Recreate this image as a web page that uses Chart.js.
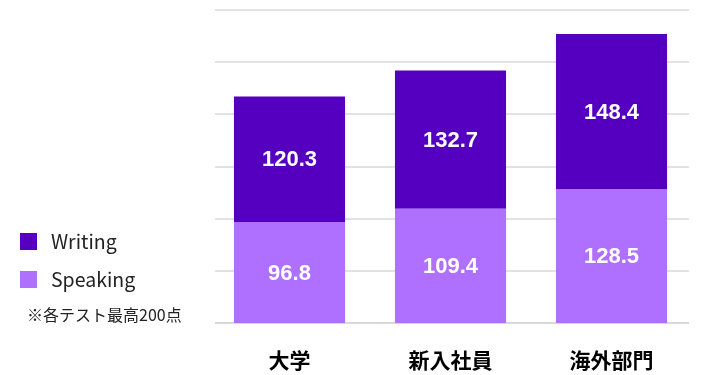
<!DOCTYPE html>
<html>
<head>
<meta charset="utf-8">
<script src="https://cdn.jsdelivr.net/npm/chart.js@4/dist/chart.umd.min.js"></script>
<style>
html,body{margin:0;padding:0;background:#fff;}
#wrap{position:relative;width:720px;height:375px;}
</style>
</head>
<body>
<div id="wrap"><canvas id="c" width="720" height="375"></canvas></div>
<script>
const categories = ['大学', '新入社員', '海外部門'];
const speaking = [96.8, 109.4, 128.5];
const writing = [120.3, 132.7, 148.4];
const seriesNames = ['Speaking', 'Writing'];
const gridValues = [0, 50, 100, 150, 200, 250, 300];
const note = '※各テスト最高200点';

const FONT = '"Noto Sans CJK JP", "Noto Sans", sans-serif';

const gridPlugin = {
  id: 'customGrid',
  beforeDatasetsDraw(chart) {
    const ctx = chart.ctx;
    const y = chart.scales.y;
    ctx.save();
    gridValues.forEach(v => {
      const py = Math.round(y.getPixelForValue(v));
      ctx.strokeStyle = '#d9d9d9';
      ctx.lineWidth = v === 0 ? 2 : 1.5;
      ctx.beginPath();
      ctx.moveTo(215, py);
      ctx.lineTo(689, py);
      ctx.stroke();
    });
    ctx.restore();
  }
};

const labelPlugin = {
  id: 'barLabels',
  afterDatasetsDraw(chart) {
    const ctx = chart.ctx;
    ctx.save();
    ctx.fillStyle = '#ffffff';
    ctx.font = 'bold 22px "Liberation Sans", Arial, sans-serif';
    ctx.textAlign = 'center';
    ctx.textBaseline = 'middle';
    chart.data.datasets.forEach((ds, di) => {
      const meta = chart.getDatasetMeta(di);
      meta.data.forEach((bar, i) => {
        const y = (bar.y + bar.base) / 2;
        ctx.fillText(ds.data[i].toFixed(1), bar.x, y + 1);
      });
    });
    ctx.restore();
  }
};

const legendPlugin = {
  id: 'customLegend',
  afterDraw(chart) {
    const ctx = chart.ctx;
    ctx.save();
    const items = [
      {label: chart.data.datasets[1].label, color: chart.data.datasets[1].backgroundColor, y: 241},
      {label: chart.data.datasets[0].label, color: chart.data.datasets[0].backgroundColor, y: 279}
    ];
    items.forEach(it => {
      ctx.fillStyle = it.color;
      ctx.fillRect(20, it.y - 8, 17, 17);
      ctx.fillStyle = '#222';
      ctx.font = '19.5px ' + FONT;
      ctx.textAlign = 'left';
      ctx.textBaseline = 'middle';
      ctx.fillText(it.label, 51, it.y + 1);
    });
    ctx.fillStyle = '#222';
    ctx.font = '16px ' + FONT;
    ctx.textBaseline = 'middle';
    ctx.fillText(note, 27, 315);
    ctx.restore();
  }
};

new Chart(document.getElementById('c'), {
  type: 'bar',
  data: {
    labels: categories,
    datasets: [
      {label: seriesNames[0], data: speaking, backgroundColor: '#B070FF', barPercentage: 0.69, categoryPercentage: 1.0},
      {label: seriesNames[1], data: writing, backgroundColor: '#5500C0', barPercentage: 0.69, categoryPercentage: 1.0}
    ]
  },
  options: {
    responsive: false,
    animation: false,
    devicePixelRatio: 1,
    layout: {padding: {left: 209, right: 28, top: 10, bottom: 0}},
    plugins: {legend: {display: false}, tooltip: {enabled: false}},
    scales: {
      x: {
        stacked: true,
        grid: {display: false},
        border: {display: false},
        ticks: {color: '#000', font: {family: FONT, size: 21, weight: 'bold'}, padding: 16},
        afterFit(scale) { scale.height = 52; }
      },
      y: {
        stacked: true,
        min: 0, max: 300,
        ticks: {display: false, stepSize: 50},
        grid: {display: false, drawTicks: false},
        border: {display: false}
      }
    }
  },
  plugins: [gridPlugin, labelPlugin, legendPlugin]
});
</script>
</body>
</html>
